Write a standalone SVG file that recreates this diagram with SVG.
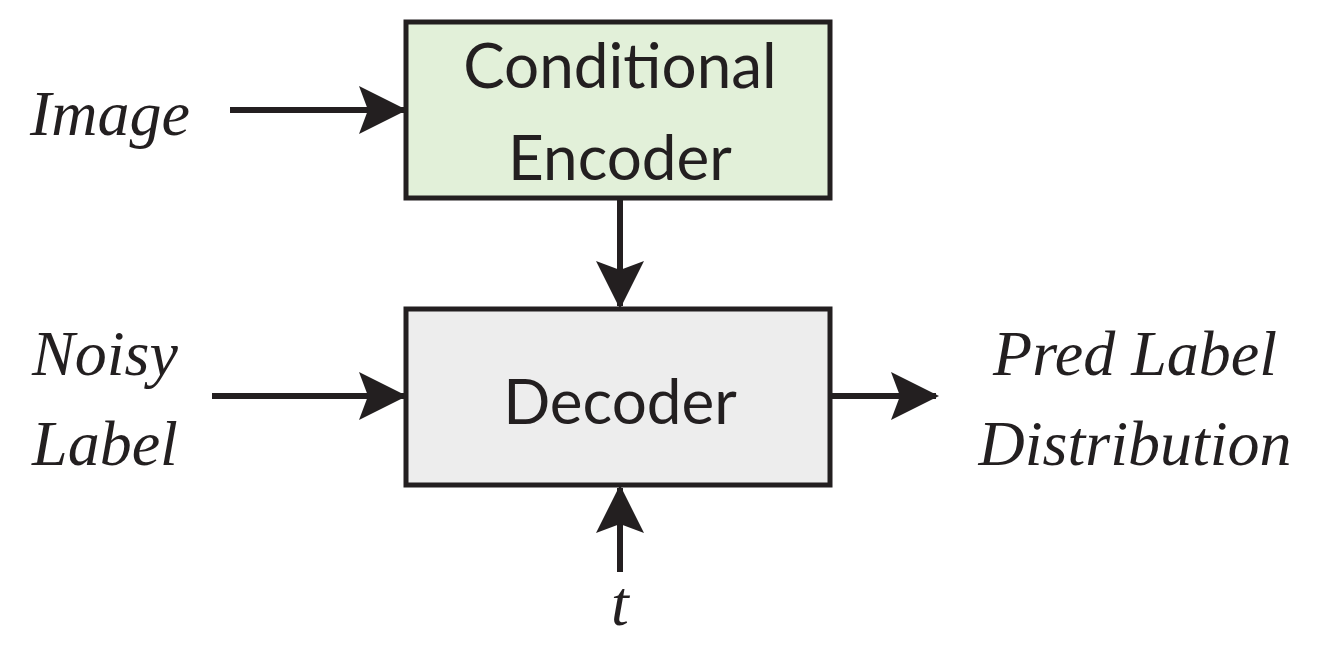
<svg xmlns="http://www.w3.org/2000/svg" width="1330" height="649" viewBox="0 0 1330 649">
<style>
.box{stroke:#231f20;stroke-width:5}
.lbl{font-family:Lato,"Open Sans",sans-serif;font-size:62px;fill:#231f20;text-anchor:middle}
.it{font-family:"Liberation Serif",serif;font-style:italic;font-size:64px;fill:#231f20;text-anchor:middle}
.c{stroke:#231f20;stroke-width:6;fill:none;marker-end:url(#ah)}
</style>
<defs><marker id="ah" markerWidth="8" markerHeight="8" refX="7.5" refY="4" orient="auto" markerUnits="strokeWidth"><path d="M0,0 L8,4 L0,8 L1.5,4 Z" fill="#231f20"/></marker></defs>
<rect width="1330" height="649" fill="#fff"/>
<g id="encoder"><rect class="box" x="406" y="22" width="424" height="176" fill="#e2f0d9"/>
<text class="lbl" x="620" y="88">Conditional</text><text class="lbl" x="620" y="180">Encoder</text></g>
<g id="decoder"><rect class="box" x="406" y="309" width="424" height="176" fill="#ededed"/>
<text class="lbl" x="620" y="424">Decoder</text></g>
<g id="image"><text class="it" x="110" y="135">Image</text></g>
<g id="noisy"><text class="it" x="105" y="375">Noisy</text><text class="it" x="105" y="465">Label</text></g>
<g id="pred"><text class="it" x="1135" y="375">Pred Label</text><text class="it" x="1135" y="465">Distribution</text></g>
<g id="t"><text class="it" x="620" y="625">t</text></g>
<g id="connectors">
<line class="c" x1="230" y1="110" x2="404" y2="110"/>
<line class="c" x1="620" y1="200" x2="620" y2="306"/>
<line class="c" x1="212" y1="396" x2="404" y2="396"/>
<line class="c" x1="832" y1="396" x2="936" y2="396"/>
<line class="c" x1="620" y1="572" x2="620" y2="488"/>
</g>
</svg>
